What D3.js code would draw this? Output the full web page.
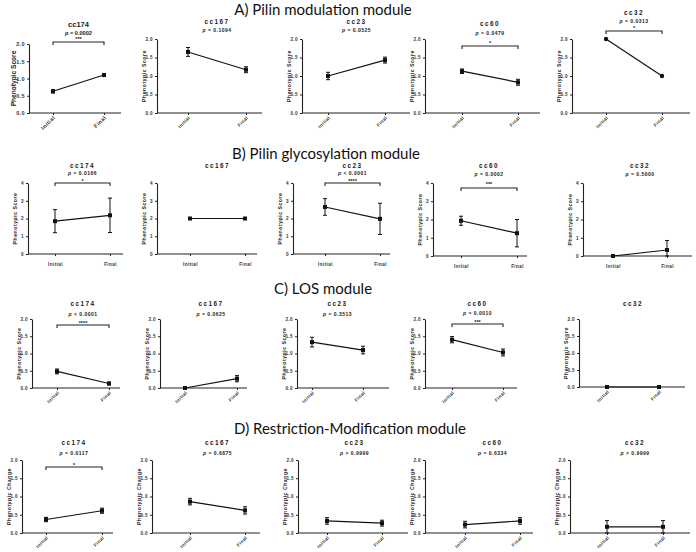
<!DOCTYPE html>
<html><head><meta charset="utf-8">
<script src="https://cdn.jsdelivr.net/npm/d3@7"></script>
<style>
html,body{margin:0;padding:0;background:#fff;}
svg{display:block;}
text{font-family:"Liberation Sans",Arial,sans-serif;}
</style></head>
<body>
<script>
// ---------------- DATA ----------------
const moduleTitles = ["A) Pilin modulation module","B) Pilin glycosylation module","C) LOS module","D) Restriction-Modification module"];
const lineages = ["cc174","cc167","cc23","cc60","cc32"];
const timepoints = ["Initial","Final"];
const yLabels = ["Phenotypic Score","Phenotypic Score","Phenotypic Score","Phenotypic Change"];
const yMaxes = [2,4,2,2];
const yTicksA = [0,0.5,1,1.5,2];
const yTicksB = [0,1,2,3,4];
const yTickLabelsA = ["0.0","0.5","1.0","1.5","2.0"];
const yTickLabelsB = ["0","1","2","3","4"];

// means [Initial, Final] and errors per lineage
const meanA = [[0.63,1.10],[1.65,1.17],[1.00,1.43],[1.13,0.83],[2.00,1.00]];
const errA  = [[0.05,0.04],[0.12,0.08],[0.10,0.08],[0.06,0.08],[0,0]];
const meanB = [[1.85,2.18],[2.00,2.00],[2.65,1.98],[1.93,1.25],[0.00,0.33]];
const errB  = [[0.65,0.97],[0,0],[0.47,0.88],[0.25,0.75],[0,0.52]];
const meanC = [[0.48,0.13],[0.00,0.27],[1.33,1.10],[1.40,1.03],[0.00,0.00]];
const errC  = [[0.07,0.04],[0,0.09],[0.14,0.11],[0.09,0.10],[0,0]];
const meanD = [[0.37,0.61],[0.86,0.62],[0.33,0.27],[0.23,0.33],[0.17,0.17]];
const errD  = [[0.06,0.07],[0.09,0.10],[0.09,0.08],[0.09,0.09],[0.17,0.17]];

// p-value text (relation, value) and significance stars
const pA = [["=","0.0002"],["=","0.1094"],["=","0.0525"],["=","0.0479"],["=","0.0313"]];
const pB = [["=","0.0166"],null,["<","0.0001"],["=","0.0002"],["=","0.5000"]];
const pC = [["<","0.0001"],["=","0.0625"],["=","0.3513"],["=","0.0010"],null];
const pD = [["=","0.0117"],["=","0.6875"],[">","0.9999"],["=","0.6334"],[">","0.9999"]];
const starsA = ["***","","","*","*"];
const starsB = ["*","","****","***",""];
const starsC = ["****","","","***",""];
const starsD = ["*","","","",""];

// ---------------- LAYOUT ----------------
const rows = [
  {titleY:14.5, rotate:true, panels:[
    {ax:29, end:121, top:44, bot:113, init:53, fin:104, tY:24, pY:33, bY:42, sY:38},
    {ax:157,end:262, top:39, bot:113, init:188,fin:246, tY:21.5, pY:30.5, bY:0, sY:0},
    {ax:302,end:410, top:39, bot:113, init:328,fin:385, tY:21.5, pY:30.5, bY:0, sY:0},
    {ax:425,end:540, top:39, bot:113, init:462,fin:518, tY:24, pY:33, bY:46, sY:42},
    {ax:572,end:690, top:39, bot:113, init:606,fin:662, tY:13, pY:21, bY:31, sY:27}]},
  {titleY:158.5, rotate:false, panels:[
    {ax:28, end:123, top:183, bot:254, init:55, fin:110, tY:166, pY:173, bY:183, sY:179.5},
    {ax:157,end:257, top:183, bot:254, init:190,fin:245, tY:166, pY:173, bY:0, sY:0},
    {ax:293,end:390, top:183, bot:254, init:325,fin:380, tY:166, pY:173, bY:183, sY:179.7},
    {ax:433,end:527, top:183, bot:256, init:461,fin:517, tY:166, pY:174, bY:188, sY:183},
    {ax:583,end:692, top:183, bot:256, init:613,fin:667, tY:166, pY:174, bY:0, sY:0}]},
  {titleY:294, rotate:true, panels:[
    {ax:32, end:120, top:319, bot:388, init:57, fin:109, tY:304, pY:314, bY:325, sY:321.5},
    {ax:160,end:247, top:319, bot:388, init:185,fin:237, tY:304, pY:314, bY:0, sY:0},
    {ax:297,end:389, top:319, bot:388, init:312,fin:363, tY:304, pY:314, bY:0, sY:0},
    {ax:425,end:517, top:319, bot:388, init:452,fin:503, tY:304, pY:313, bY:324, sY:320.5},
    {ax:579,end:685, top:319, bot:387, init:607,fin:659, tY:304, pY:314, bY:0, sY:0}]},
  {titleY:434, rotate:true, panels:[
    {ax:22, end:113, top:460, bot:533, init:46, fin:102, tY:443, pY:453, bY:467, sY:463.5},
    {ax:152,end:260, top:460, bot:533, init:190,fin:245, tY:443, pY:453, bY:0, sY:0},
    {ax:298,end:408, top:460, bot:533, init:327,fin:382, tY:443, pY:453, bY:0, sY:0},
    {ax:425,end:533, top:460, bot:533, init:465,fin:520, tY:443, pY:453, bY:0, sY:0},
    {ax:570,end:690, top:460, bot:533, init:607,fin:663, tY:443, pY:453, bY:0, sY:0}]}
];
const titleX = [323, 326, 323, 350];

const means = [meanA,meanB,meanC,meanD];
const errs = [errA,errB,errC,errD];
const ps = [pA,pB,pC,pD];
const stars = [starsA,starsB,starsC,starsD];

const W=696,H=552;
const svg = d3.select("body").append("svg").attr("width",W).attr("height",H);
const INK="#222";

rows.forEach((row,ri)=>{
  svg.append("text").attr("x",titleX[ri]).attr("y",row.titleY)
    .attr("text-anchor","middle")
    .style("font-family","Lato, 'Open Sans', sans-serif")
    .style("font-size","15px").attr("fill","#111")
    .text(moduleTitles[ri]);

  const ticks = ri===1 ? yTicksB : yTicksA;
  const tickLabels = ri===1 ? yTickLabelsB : yTickLabelsA;

  row.panels.forEach((L,pi)=>{
    const g = svg.append("g");
    const y = d3.scaleLinear().domain([0,yMaxes[ri]]).range([L.bot,L.top]);
    const x = d3.scalePoint().domain(timepoints).range([L.init,L.fin]);
    const big = (ri===0 && pi===0);

    // y axis
    const ya = g.append("g").attr("transform",`translate(${L.ax},0)`)
      .call(d3.axisLeft(y).tickValues(ticks).tickSize(2).tickSizeOuter(0)
        .tickFormat((d,i)=>tickLabels[i]));
    ya.select(".domain").attr("stroke",INK).attr("stroke-width",1.1);
    ya.selectAll(".tick line").attr("stroke",INK).attr("stroke-width",1);
    ya.selectAll(".tick text").attr("x",-4).style("font-size", big?"5.5px":"4.6px")
      .style("font-weight","bold").attr("fill","#333").style("letter-spacing","0.4px");

    // x axis
    g.append("line").attr("x1",L.ax).attr("x2",L.end).attr("y1",L.bot).attr("y2",L.bot)
      .attr("stroke",INK).attr("stroke-width",1.1);
    const xa = g.append("g").attr("transform",`translate(0,${L.bot})`)
      .call(d3.axisBottom(x).tickSize(2).tickSizeOuter(0));
    xa.select(".domain").remove();
    xa.selectAll(".tick line").attr("stroke",INK).attr("stroke-width",1);
    const xt = xa.selectAll(".tick text").style("font-size", big?"5.5px":"4.6px")
      .style("font-weight","bold").attr("fill","#333").style("letter-spacing","0.4px");
    if(row.rotate){
      xt.attr("text-anchor","end").attr("dy",0).attr("y",0)
        .attr("transform","translate(2,5) rotate(-45)");
    } else {
      xt.attr("y",9);
    }

    // y-axis label
    g.append("text")
      .attr("transform",`translate(${L.ax-(big?15:13)},${(L.top+L.bot)/2}) rotate(-90)`)
      .attr("text-anchor","middle").attr("dy","0.35em")
      .style("font-size",big?"6.6px":"5.2px").style("font-weight","bold")
      .style("letter-spacing",big?"0":"0.5px").attr("fill","#222")
      .text(yLabels[ri]);

    // titles
    const cx = (L.init+L.fin)/2;
    g.append("text").attr("x",cx).attr("y",L.tY).attr("text-anchor","middle").attr("dy","0.35em")
      .style("font-size",big?"7.5px":"6.4px").style("font-weight","bold")
      .style("letter-spacing",big?"0":"1.4px").attr("fill","#222").text(lineages[pi]);
    const p = ps[ri][pi];
    if(p){
      const t = g.append("text").attr("x",cx).attr("y",L.pY).attr("text-anchor","middle").attr("dy","0.35em")
        .style("font-size",big?"5.6px":"5px").style("font-weight","bold")
        .style("letter-spacing",big?"0":"0.5px").attr("fill","#222");
      t.append("tspan").style("font-style","italic").text("p");
      t.append("tspan").text(" "+p[0]+" "+p[1]);
    }
    // bracket & stars
    const s = stars[ri][pi];
    if(s){
      g.append("path")
        .attr("d",`M${x("Initial")},${L.bY+3}V${L.bY}H${x("Final")}V${L.bY+3}`)
        .attr("fill","none").attr("stroke",INK).attr("stroke-width",1.1);
      g.append("text").attr("x",cx).attr("y",L.sY+3).attr("text-anchor","middle")
        .style("font-size","5.5px").style("font-weight","bold").attr("fill","#222").text(s);
    }

    // data
    const m = means[ri][pi], e = errs[ri][pi];
    const pts = timepoints.map((tp,i)=>({tp, v:m[i], e:e[i]}));
    g.append("path").datum(pts)
      .attr("d", d3.line().x(d=>x(d.tp)).y(d=>y(d.v)))
      .attr("fill","none").attr("stroke","#111").attr("stroke-width",1.2);
    pts.forEach(d=>{
      if(d.e>0){
        const lo = Math.max(0,d.v-d.e), hi = Math.min(yMaxes[ri],d.v+d.e);
        const xx = x(d.tp);
        g.append("path")
          .attr("d",`M${xx},${y(lo)}V${y(hi)}M${xx-2},${y(hi)}H${xx+2}M${xx-2},${y(lo)}H${xx+2}`)
          .attr("stroke","#111").attr("stroke-width",1).attr("fill","none");
      }
    });
    if(ri===0 && pi===4){
      g.selectAll(".pt").data(pts).enter().append("circle")
        .attr("cx",d=>x(d.tp)).attr("cy",d=>y(d.v)).attr("r",2.2).attr("fill","#111");
    } else {
      g.selectAll(".pt").data(pts).enter().append("rect")
        .attr("x",d=>x(d.tp)-2).attr("y",d=>y(d.v)-2).attr("width",4).attr("height",4).attr("fill","#111");
    }
  });
});
</script>
</body></html>
